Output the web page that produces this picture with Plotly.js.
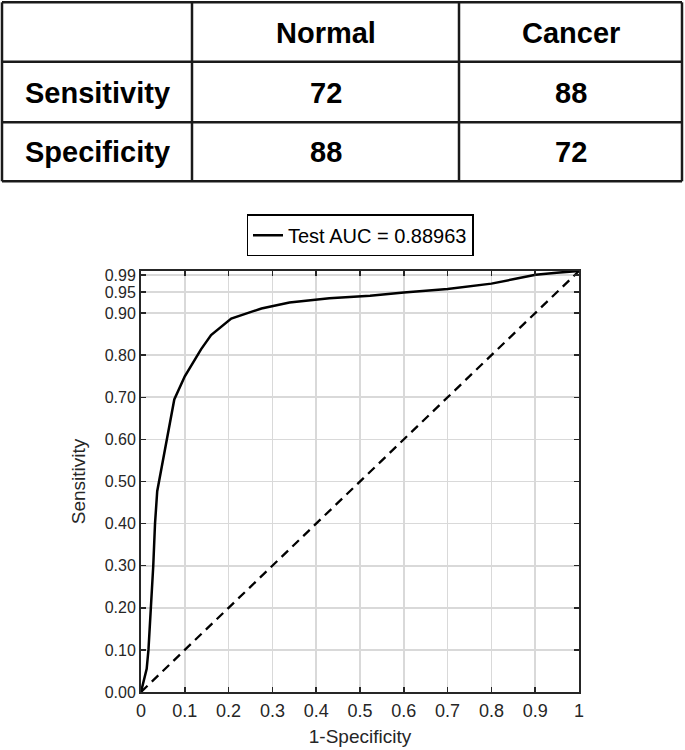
<!DOCTYPE html>
<html>
<head>
<meta charset="utf-8">
<script src="https://cdn.plot.ly/plotly-3.0.1.min.js"></script>
<style>html,body{margin:0;padding:0;background:#fff;}#chart{width:685px;height:750px;}</style>
</head>
<body>
<div id="chart"></div>
<script>
// ---- data ----
const tableHeader = ["", "Normal", "Cancer"];
const rowLabels = ["Sensitivity", "Specificity"];
const normalVals = [72, 88];
const cancerVals = [88, 72];

const fpr = [0, 0.004, 0.008, 0.013, 0.017, 0.023, 0.028, 0.032, 0.037, 0.076, 0.100, 0.137, 0.160, 0.206, 0.275, 0.339, 0.430, 0.523, 0.600, 0.700, 0.800, 0.858, 0.901, 0.949, 1.0];
const tpr = [0, 0.015, 0.030, 0.055, 0.100, 0.200, 0.300, 0.400, 0.477, 0.695, 0.750, 0.814, 0.848, 0.887, 0.911, 0.925, 0.935, 0.941, 0.949, 0.957, 0.970, 0.982, 0.991, 0.996, 1.0];
const chanceX = [0, 1];
const chanceY = [0, 1];
const aucLabel = "Test AUC = 0.88963";

const xTickVals = [0, 0.1, 0.2, 0.3, 0.4, 0.5, 0.6, 0.7, 0.8, 0.9, 1];
const xTickText = ["0", "0.1", "0.2", "0.3", "0.4", "0.5", "0.6", "0.7", "0.8", "0.9", "1"];
const yTickVals = [0, 0.1, 0.2, 0.3, 0.4, 0.5, 0.6, 0.7, 0.8, 0.9, 0.95, 0.99];
const yTickText = ["0.00", "0.10", "0.20", "0.30", "0.40", "0.50", "0.60", "0.70", "0.80", "0.90", "0.95", "0.99"];

// ---- layout geometry (pixels) ----
const X0 = 141, PW = 438, Y0 = 691.7, PH = 421;
function pxX(x) { return (x - X0) / PW; }
function pxY(y) { return (Y0 - y) / PH; }
const colEdges = [2, 192, 459, 682];
const rowEdges = [2, 61.5, 122, 181];

const FONT = "Liberation Sans, Arial, sans-serif";
const lineCol = "#1a1a1a";

const shapes = [];
colEdges.forEach(function (cx) {
  shapes.push({type: "line", xref: "paper", yref: "paper",
    x0: pxX(cx), x1: pxX(cx), y0: pxY(rowEdges[0]), y1: pxY(rowEdges[rowEdges.length - 1]),
    line: {color: lineCol, width: 2.5}});
});
rowEdges.forEach(function (ry) {
  shapes.push({type: "line", xref: "paper", yref: "paper",
    x0: pxX(colEdges[0]), x1: pxX(colEdges[colEdges.length - 1]), y0: pxY(ry), y1: pxY(ry),
    line: {color: lineCol, width: 2.5}});
});

const tableRows = [tableHeader];
rowLabels.forEach(function (lab, i) {
  tableRows.push([lab, String(normalVals[i]), String(cancerVals[i])]);
});

const annotations = [];
tableRows.forEach(function (row, r) {
  const cy = (rowEdges[r] + rowEdges[r + 1]) / 2 + 0.5;
  row.forEach(function (txt, c) {
    if (!txt) return;
    const cx = (colEdges[c] + colEdges[c + 1]) / 2;
    annotations.push({xref: "paper", yref: "paper", x: pxX(cx), y: pxY(cy),
      xanchor: "center", yanchor: "middle", showarrow: false, text: "<b>" + txt + "</b>",
      font: {family: FONT, size: 29, color: "#000"}});
  });
});

const traces = [
  {x: chanceX, y: chanceY, type: "scatter", mode: "lines", showlegend: false,
   line: {color: "#000", width: 2.3, dash: "9px,6px"}, hoverinfo: "skip"},
  {x: fpr, y: tpr, type: "scatter", mode: "lines", name: aucLabel,
   line: {color: "#000", width: 2.5}}
];

const axisCommon = {
  showline: true, linecolor: "#262626", linewidth: 2, mirror: "ticks",
  ticks: "inside", ticklen: 5, tickwidth: 1.5, tickcolor: "#262626",
  showgrid: true, gridcolor: "#d9d9d9", gridwidth: 1.6, zeroline: false,
  tickmode: "array"
};

const layout = {
  width: 685, height: 750,
  margin: {l: X0, r: 685 - X0 - PW, t: 750 - 58.3 - PH, b: 58.3, pad: 0},
  paper_bgcolor: "#fff", plot_bgcolor: "#fff",
  showlegend: true,
  legend: {x: 0.5, xanchor: "center", y: pxY(256), yanchor: "bottom",
    bordercolor: "#000", borderwidth: 1.5, bgcolor: "#fff",
    font: {family: FONT, size: 20, color: "#000"}},
  xaxis: Object.assign({}, axisCommon, {range: [0, 1], tickvals: xTickVals, ticktext: xTickText,
    tickfont: {family: FONT, size: 18, color: "#262626"}, ticklabelstandoff: 1,
    title: {text: "1-Specificity", font: {family: FONT, size: 19, color: "#262626"}, standoff: 10}}),
  yaxis: Object.assign({}, axisCommon, {range: [0, 1], tickvals: yTickVals, ticktext: yTickText,
    tickfont: {family: FONT, size: 16, color: "#262626"},
    title: {text: "Sensitivity", font: {family: FONT, size: 19, color: "#262626"}, standoff: 14}}),
  shapes: shapes,
  annotations: annotations
};

Plotly.newPlot("chart", traces, layout, {displayModeBar: false, staticPlot: true});
</script>
</body>
</html>
